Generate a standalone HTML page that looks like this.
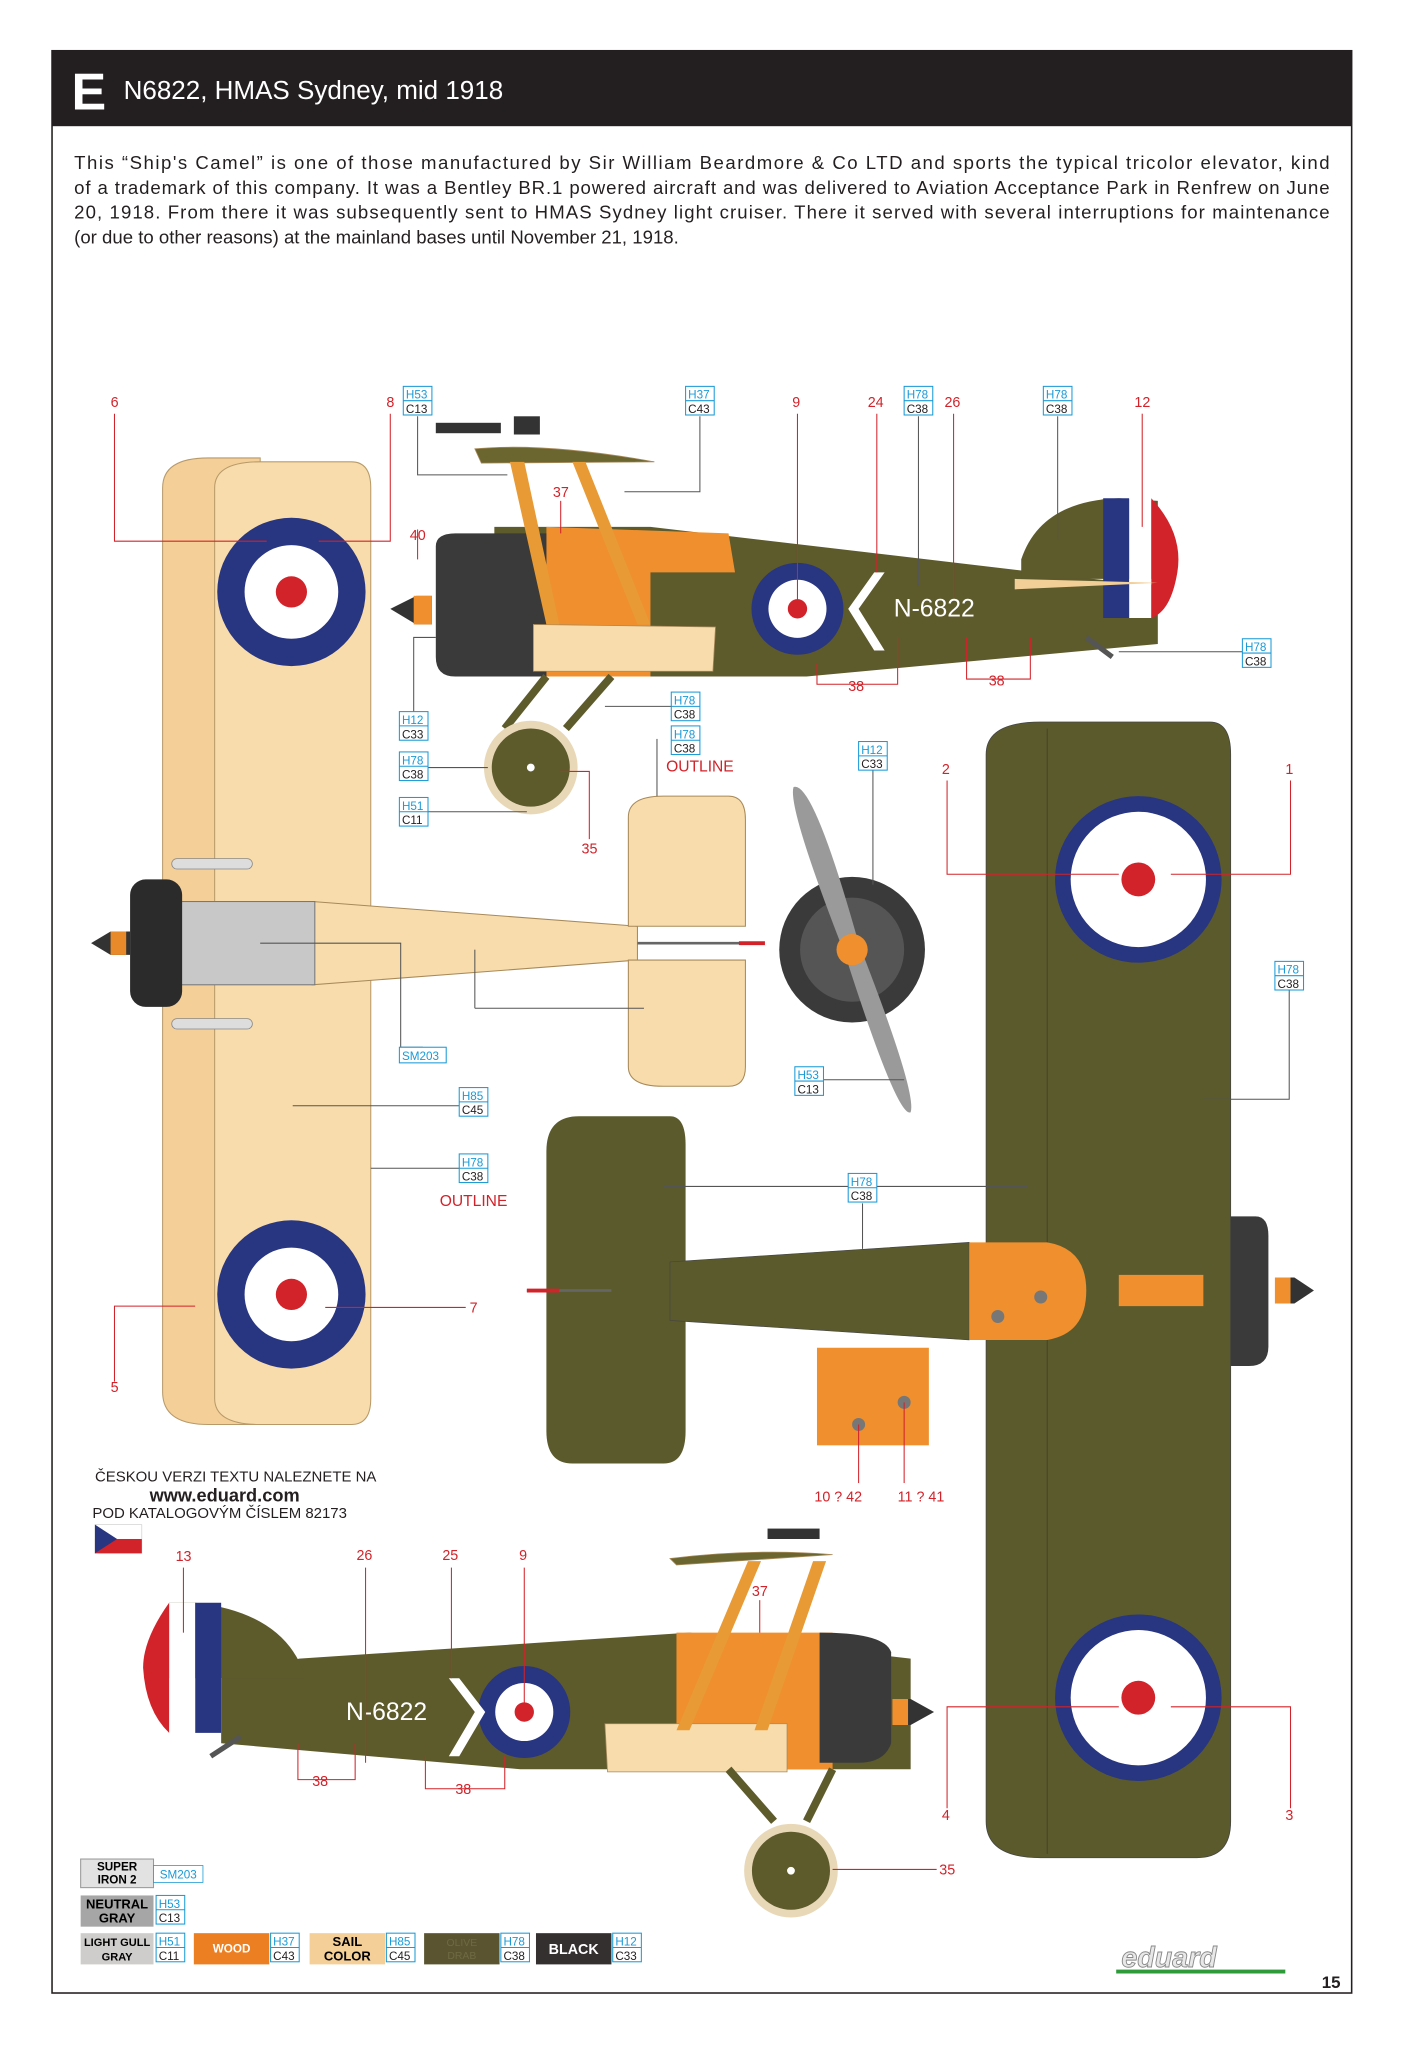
<!DOCTYPE html>
<html><head><meta charset="utf-8">
<style>
html,body{margin:0;padding:0;background:#fff;}
svg{display:block;}
text{font-family:"Liberation Sans",sans-serif;}
.p{font-size:14.3px;fill:#231f20;}
.r{font-size:11px;fill:#d2232a;}
.hb{font-size:9px;fill:#1a9ad6;}
.cb{font-size:9px;fill:#231f20;}
.ln{stroke:#555;stroke-width:0.8;fill:none;}
.rl{stroke:#d2232a;stroke-width:0.8;fill:none;}
</style></head>
<body>
<svg width="1405" height="2047" viewBox="0 0 1080 1573.5" preserveAspectRatio="none" xmlns="http://www.w3.org/2000/svg">
<defs>
<g id="rnd57"><circle r="57" fill="#283580"/><circle r="36" fill="#fff"/><circle r="12" fill="#d2232a"/></g>
<g id="rnd64"><circle r="64" fill="#283580"/><circle r="52" fill="#fff"/><circle r="13" fill="#d2232a"/></g>
<g id="hc"><rect x="0" y="0" width="22" height="22" fill="#fff" stroke="#1a9ad6" stroke-width="0.8"/><line x1="0" y1="11" x2="22" y2="11" stroke="#1a9ad6" stroke-width="0.8"/></g>
</defs>
<rect x="0" y="0" width="1080" height="1573.5" fill="#fff"/>
<rect x="40" y="39" width="999" height="1493" fill="none" stroke="#231f20" stroke-width="1.2"/>
<rect x="40" y="39" width="999" height="58" fill="#231f20"/>
<text x="55" y="84" style="font-size:40px;font-weight:bold;fill:#fff">E</text>
<text x="95" y="76" style="font-size:20px;fill:#fff">N6822, HMAS Sydney, mid 1918</text>
<text class="p" x="57" y="130" textLength="965" lengthAdjust="spacing">This “Ship's Camel” is one of those manufactured by Sir William Beardmore &amp; Co LTD and sports the typical tricolor elevator, kind</text>
<text class="p" x="57" y="149" textLength="965" lengthAdjust="spacing">of a trademark of this company. It was a Bentley BR.1 powered aircraft and was delivered to Aviation Acceptance Park in Renfrew on June</text>
<text class="p" x="57" y="168" textLength="965" lengthAdjust="spacing">20, 1918.  From there it was subsequently sent to HMAS Sydney light cruiser. There it served with several interruptions for maintenance</text>
<text class="p" x="57" y="187">(or due to other reasons) at the mainland bases until November 21, 1918.</text>

<!-- TOP PLAN VIEW -->
<path d="M125,375 Q125,352 160,352 L200,352 L200,1095 L160,1095 Q125,1095 125,1070 Z" fill="#f4cf98" stroke="#b89a6a" stroke-width="0.8"/>
<path d="M165,375 Q165,355 200,355 L270,355 Q285,355 285,375 L285,1075 Q285,1095 270,1095 L200,1095 Q165,1095 165,1075 Z" fill="#f8dcab" stroke="#b89a6a" stroke-width="0.8"/>
<use href="#rnd57" x="224" y="455"/>
<use href="#rnd57" x="224" y="995"/>
<path d="M240,693 L490,712 L490,738 L240,757 Z" fill="#f8dcab" stroke="#a88a5a" stroke-width="0.8"/>
<rect x="130" y="693" width="112" height="64" fill="#c8c8c8" stroke="#777" stroke-width="0.8"/>
<rect x="100" y="676" width="40" height="98" rx="12" fill="#2b2b2b"/>
<path d="M70,725 L85,716 L100,716 L100,734 L85,734 Z" fill="#333"/>
<rect x="85" y="716" width="12" height="18" fill="#e8892a"/>
<rect x="132" y="660" width="62" height="8" rx="4" fill="#ddd" stroke="#888" stroke-width="0.6"/>
<rect x="132" y="783" width="62" height="8" rx="4" fill="#ddd" stroke="#888" stroke-width="0.6"/>
<path d="M483,628 Q483,612 510,612 L560,612 Q573,612 573,630 L573,712 L483,712 Z" fill="#f8dcab" stroke="#a88a5a" stroke-width="0.8"/>
<path d="M483,738 L573,738 L573,820 Q573,835 560,835 L510,835 Q483,835 483,820 Z" fill="#f8dcab" stroke="#a88a5a" stroke-width="0.8"/>
<line x1="490" y1="725" x2="585" y2="725" stroke="#666" stroke-width="2"/>
<line x1="568" y1="725" x2="588" y2="725" stroke="#d2232a" stroke-width="3"/>

<!-- TOP SIDE VIEW -->
<path d="M500,405 L840,445 L890,450 L890,495 L620,520 L380,520 L380,405 Z" fill="#5d5a2c"/>
<path d="M420,405 L560,410 L565,440 L500,440 L500,520 L420,520 Z" fill="#ef8f2e"/>
<path d="M335,420 Q335,410 350,410 L420,410 L420,520 L350,520 Q335,520 335,505 Z" fill="#3a3a3a"/>
<path d="M300,468 L320,458 L332,458 L332,480 L320,480 Z" fill="#333"/>
<rect x="318" y="458" width="14" height="22" fill="#ef8f2e"/>
<path d="M785,430 Q800,385 860,383 L890,385 L890,445 L785,445 Z" fill="#5d5a2c"/>
<path d="M848,383 L868,383 L868,475 L848,475 Z" fill="#283580"/>
<path d="M868,383 L885,383 L885,475 L868,475 Z" fill="#fff"/>
<path d="M885,383 Q910,410 905,440 Q900,470 885,475 Z" fill="#d2232a"/>
<path d="M780,445 L890,448 L780,453 Z" fill="#f3cf98"/>
<g transform="translate(613 468) scale(0.62)"><use href="#rnd57"/></g>
<path d="M680,440 L660,468 L680,500 L672,500 L652,468 L672,440 Z" fill="#fff"/>
<text x="687" y="474" style="font-size:19px;fill:#fff">N-6822</text>
<path d="M410,480 L550,482 L548,516 L410,516 Z" fill="#f8dcab" stroke="#a88a5a" stroke-width="0.6"/>
<path d="M365,345 Q420,340 503,355 L370,356 Z" fill="#6b6630" stroke="#a88a5a" stroke-width="0.6"/>
<rect x="335" y="325" width="50" height="8" fill="#333"/>
<rect x="395" y="320" width="20" height="14" fill="#333"/>
<path d="M392,355 L420,480 L430,480 L403,355 Z" fill="#e89a35"/>
<path d="M440,355 L490,480 L500,480 L450,355 Z" fill="#e89a35"/>
<path d="M420,520 L388,560 M470,520 L435,560" stroke="#5d5a2c" stroke-width="6"/>
<circle cx="408" cy="590" r="36" fill="#e8d8b8"/><circle cx="408" cy="590" r="30" fill="#5d5a2c"/><circle cx="408" cy="590" r="3" fill="#fff"/>
<path d="M835,490 L855,505" stroke="#555" stroke-width="4"/>

<!-- PROPELLER -->
<circle cx="655" cy="730" r="56" fill="#3a3a3a"/>
<circle cx="655" cy="730" r="40" fill="#555"/>
<path d="M610,605 Q625,600 660,725 L650,735 Q605,620 610,605 Z" fill="#9a9a9a"/>
<path d="M700,855 Q690,860 650,735 L660,725 Q705,840 700,855 Z" fill="#9a9a9a"/>
<circle cx="655" cy="730" r="12" fill="#ef8f2e"/>

<!-- BOTTOM VIEW -->
<path d="M758,580 Q758,555 800,555 L930,555 Q946,555 946,580 L946,1400 Q946,1428 920,1428 L800,1428 Q758,1428 758,1400 Z" fill="#5b5a2d" stroke="#444" stroke-width="0.6"/>
<line x1="805" y1="560" x2="805" y2="1425" stroke="#4a4925" stroke-width="1"/>
<use href="#rnd64" x="875" y="676"/>
<use href="#rnd64" x="875" y="1305"/>
<path d="M946,935 L965,935 Q975,935 975,950 L975,1035 Q975,1050 960,1050 L946,1050 Z" fill="#3a3a3a"/>
<path d="M1010,992 L995,982 L990,982 L990,1002 L995,1002 Z" fill="#333"/>
<rect x="980" y="982" width="12" height="20" fill="#ef8f2e"/>
<rect x="860" y="980" width="65" height="24" fill="#ef8f2e"/>
<path d="M420,885 Q420,858 445,858 L515,858 Q527,858 527,880 L527,1100 Q527,1125 510,1125 L440,1125 Q420,1125 420,1100 Z" fill="#5b5a2d"/>
<path d="M515,970 L745,955 L745,1030 L515,1015 Z" fill="#5b5a2d" stroke="#444" stroke-width="0.5"/>
<path d="M745,955 L805,955 Q835,960 835,992 Q835,1025 805,1030 L745,1030 Z" fill="#ef8f2e"/>
<line x1="405" y1="992" x2="470" y2="992" stroke="#666" stroke-width="2"/>
<line x1="405" y1="992" x2="430" y2="992" stroke="#d2232a" stroke-width="3"/>
<rect x="628" y="1036" width="86" height="75" fill="#ef8f2e"/>
<circle cx="660" cy="1095" r="5" fill="#777"/><circle cx="695" cy="1078" r="5" fill="#777"/>
<circle cx="767" cy="1012" r="5" fill="#777"/><circle cx="800" cy="997" r="5" fill="#777"/>

<!-- BOTTOM SIDE VIEW -->
<path d="M700,1275 L530,1255 L230,1275 L170,1290 L170,1340 L400,1360 L700,1360 Z" fill="#5d5a2c"/>
<path d="M640,1255 L520,1255 L520,1360 L640,1360 Z" fill="#ef8f2e"/>
<path d="M630,1255 Q680,1255 685,1270 L685,1340 Q680,1355 660,1355 L630,1355 Z" fill="#3a3a3a"/>
<path d="M718,1316 L700,1306 L688,1306 L688,1326 L700,1326 Z" fill="#333"/>
<rect x="686" y="1306" width="12" height="20" fill="#ef8f2e"/>
<path d="M235,1290 Q220,1240 150,1232 L130,1232 L130,1290 Z" fill="#5d5a2c"/>
<path d="M150,1232 L170,1232 L170,1332 L150,1332 Z" fill="#283580"/>
<path d="M130,1232 L150,1232 L150,1332 L130,1332 Z" fill="#fff"/>
<path d="M130,1232 Q110,1260 110,1282 Q112,1315 130,1332 Z" fill="#d2232a"/>
<g transform="translate(403 1316) scale(0.62)"><use href="#rnd57"/></g>
<path d="M345,1290 L365,1316 L345,1350 L353,1350 L373,1316 L353,1290 Z" fill="#fff"/>
<text x="266" y="1322" style="font-size:19px;fill:#fff">N-6822</text>
<path d="M465,1325 L605,1325 L605,1362 L467,1362 Z" fill="#f8dcab" stroke="#a88a5a" stroke-width="0.6"/>
<path d="M515,1198 Q580,1190 640,1195 L520,1203 Z" fill="#6b6630" stroke="#a88a5a" stroke-width="0.6"/>
<rect x="590" y="1175" width="40" height="8" fill="#333"/>
<path d="M575,1200 L520,1330 L530,1330 L585,1200 Z" fill="#e89a35"/>
<path d="M625,1200 L580,1330 L590,1330 L635,1200 Z" fill="#e89a35"/>
<path d="M560,1360 L595,1400 M640,1360 L620,1400" stroke="#5d5a2c" stroke-width="6"/>
<circle cx="608" cy="1438" r="36" fill="#e8d8b8"/><circle cx="608" cy="1438" r="30" fill="#5d5a2c"/><circle cx="608" cy="1438" r="3" fill="#fff"/>
<path d="M185,1335 L162,1350" stroke="#555" stroke-width="4"/>

<g class="rl">
<path d="M88,318 L88,416 L205,416"/><path d="M300,318 L300,416 L245,416"/>
<path d="M321,407 L321,430"/><path d="M431,385 L431,410"/>
<path d="M613,318 L613,465"/><path d="M674,318 L674,440"/><path d="M733,318 L733,460"/>
<path d="M878,318 L878,405"/>
<path d="M628,510 L628,526 L690,526 L690,490"/><path d="M743,490 L743,522 L792,522 L792,490"/>
<path d="M453,645 L453,593 L430,593"/>
<path d="M728,600 L728,672 L860,672"/><path d="M992,600 L992,672 L900,672"/>
<path d="M88,1062 L88,1004 L150,1004"/><path d="M358,1005 L250,1005"/>
<path d="M728,1390 L728,1312 L860,1312"/><path d="M992,1390 L992,1312 L900,1312"/>
<path d="M141,1205 L141,1255"/><path d="M281,1205 L281,1355"/><path d="M347,1205 L347,1290"/><path d="M403,1205 L403,1310"/>
<path d="M584,1230 L584,1255"/>
<path d="M720,1437 L640,1437"/>
<path d="M229,1340 L229,1368 L273,1368 L273,1340"/><path d="M327,1350 L327,1375 L388,1375 L388,1350"/>
<path d="M660,1140 L660,1095"/><path d="M695,1140 L695,1078"/>
</g>
<g class="ln">
<path d="M321,320 L321,365 L390,365"/><path d="M538,320 L538,378 L480,378"/>
<path d="M706,320 L706,450"/><path d="M813,320 L813,415"/>
<path d="M955,501 L860,501"/>
<path d="M318,550 L318,490 L335,490"/>
<path d="M527,543 L465,543"/><path d="M505,568 L505,612"/>
<path d="M318,590 L375,590"/><path d="M318,624 L405,624"/>
<path d="M671,590 L671,680"/>
<path d="M991,760 L991,845 L925,845"/>
<path d="M325,805 L308,805 L308,725 L200,725"/>
<path d="M365,850 L225,850"/><path d="M365,775 L365,730"/><path d="M365,775 L495,775"/>
<path d="M365,898 L285,898"/>
<path d="M622,830 L695,830"/>
<path d="M663,925 L663,960"/><path d="M510,912 L790,912"/>
</g>

<g>
<g transform="translate(310,297)"><use href="#hc"/><text class="hb" x="2" y="9.5">H53</text><text class="cb" x="2" y="20.5">C13</text></g>
<g transform="translate(527,297)"><use href="#hc"/><text class="hb" x="2" y="9.5">H37</text><text class="cb" x="2" y="20.5">C43</text></g>
<g transform="translate(695,297)"><use href="#hc"/><text class="hb" x="2" y="9.5">H78</text><text class="cb" x="2" y="20.5">C38</text></g>
<g transform="translate(802,297)"><use href="#hc"/><text class="hb" x="2" y="9.5">H78</text><text class="cb" x="2" y="20.5">C38</text></g>
<g transform="translate(955,491)"><use href="#hc"/><text class="hb" x="2" y="9.5">H78</text><text class="cb" x="2" y="20.5">C38</text></g>
<g transform="translate(516,532)"><use href="#hc"/><text class="hb" x="2" y="9.5">H78</text><text class="cb" x="2" y="20.5">C38</text></g>
<g transform="translate(516,558)"><use href="#hc"/><text class="hb" x="2" y="9.5">H78</text><text class="cb" x="2" y="20.5">C38</text></g>
<g transform="translate(307,547)"><use href="#hc"/><text class="hb" x="2" y="9.5">H12</text><text class="cb" x="2" y="20.5">C33</text></g>
<g transform="translate(307,578)"><use href="#hc"/><text class="hb" x="2" y="9.5">H78</text><text class="cb" x="2" y="20.5">C38</text></g>
<g transform="translate(307,613)"><use href="#hc"/><text class="hb" x="2" y="9.5">H51</text><text class="cb" x="2" y="20.5">C11</text></g>
<g transform="translate(660,570)"><use href="#hc"/><text class="hb" x="2" y="9.5">H12</text><text class="cb" x="2" y="20.5">C33</text></g>
<g transform="translate(980,739)"><use href="#hc"/><text class="hb" x="2" y="9.5">H78</text><text class="cb" x="2" y="20.5">C38</text></g>
<g transform="translate(611,820)"><use href="#hc"/><text class="hb" x="2" y="9.5">H53</text><text class="cb" x="2" y="20.5">C13</text></g>
<g transform="translate(353,836)"><use href="#hc"/><text class="hb" x="2" y="9.5">H85</text><text class="cb" x="2" y="20.5">C45</text></g>
<g transform="translate(353,887)"><use href="#hc"/><text class="hb" x="2" y="9.5">H78</text><text class="cb" x="2" y="20.5">C38</text></g>
<g transform="translate(652,902)"><use href="#hc"/><text class="hb" x="2" y="9.5">H78</text><text class="cb" x="2" y="20.5">C38</text></g>
<rect x="307" y="805" width="36" height="12" fill="#fff" stroke="#1a9ad6" stroke-width="0.8"/><text class="hb" x="309" y="815">SM203</text>
</g>

<g class="r">
<text x="85" y="313">6</text><text x="297" y="313">8</text><text x="315" y="415">40</text><text x="425" y="382">37</text>
<text x="609" y="313">9</text><text x="667" y="313">24</text><text x="726" y="313">26</text><text x="872" y="313">12</text>
<text x="652" y="531">38</text><text x="760" y="527">38</text>
<text x="512" y="593" style="font-size:12px">OUTLINE</text>
<text x="447" y="656">35</text><text x="724" y="595">2</text><text x="988" y="595">1</text>
<text x="338" y="927" style="font-size:12px">OUTLINE</text>
<text x="361" y="1009">7</text><text x="85" y="1070">5</text>
<text x="626" y="1154">10 ? 42</text><text x="690" y="1154">11 ? 41</text>
<text x="135" y="1200">13</text><text x="274" y="1199">26</text><text x="340" y="1199">25</text><text x="399" y="1199">9</text><text x="578" y="1227">37</text>
<text x="240" y="1373">38</text><text x="350" y="1379">38</text>
<text x="724" y="1399">4</text><text x="988" y="1399">3</text><text x="722" y="1441">35</text>
</g>

<text x="73" y="1139" style="font-size:11.5px;fill:#231f20">ČESKOU VERZI TEXTU NALEZNETE NA</text>
<text x="115" y="1154" style="font-size:14px;font-weight:bold;fill:#231f20">www.eduard.com</text>
<text x="71" y="1167" style="font-size:11.5px;fill:#231f20">POD KATALOGOVÝM ČÍSLEM 82173</text>
<rect x="73" y="1172" width="36" height="22" fill="#fff" stroke="#ccc" stroke-width="0.5"/>
<rect x="73" y="1183" width="36" height="11" fill="#d2232a"/>
<path d="M73,1172 L90,1183 L73,1194 Z" fill="#283580"/>

<g font-weight="bold" font-size="9" text-anchor="middle">
<rect x="62" y="1429" width="56" height="22" fill="#e2e2e2" stroke="#999" stroke-width="0.8"/>
<text x="90" y="1438">SUPER</text><text x="90" y="1448">IRON 2</text>
<rect x="118" y="1434" width="38" height="13" fill="#fff" stroke="#1a9ad6" stroke-width="0.6"/>
<text x="137" y="1444" style="fill:#1a9ad6;font-weight:normal">SM203</text>
<rect x="62" y="1457" width="56" height="24" fill="#a7a6a6"/>
<text x="90" y="1467" font-size="10">NEUTRAL</text><text x="90" y="1478" font-size="10">GRAY</text>
<rect x="62" y="1486" width="56" height="24" fill="#cfcdcb"/>
<text x="90" y="1496" font-size="8.5">LIGHT GULL</text><text x="90" y="1507" font-size="8.5">GRAY</text>
<rect x="149" y="1486" width="58" height="24" fill="#ec7f22"/>
<text x="178" y="1501" fill="#fff">WOOD</text>
<rect x="238" y="1486" width="58" height="24" fill="#f4cf98"/>
<text x="267" y="1496" font-size="10">SAIL</text><text x="267" y="1507" font-size="10">COLOR</text>
<rect x="326" y="1486" width="58" height="24" fill="#5a5430"/>
<text x="355" y="1496" fill="#6f6a43" font-weight="normal" font-size="8">OLIVE</text><text x="355" y="1506" fill="#6f6a43" font-weight="normal" font-size="8">DRAB</text>
<rect x="412" y="1486" width="58" height="24" fill="#34302f"/>
<text x="441" y="1502" fill="#fff" font-size="11">BLACK</text>
</g>
<g>
<g transform="translate(120,1457)"><use href="#hc"/><text class="hb" x="2" y="9.5">H53</text><text class="cb" x="2" y="20.5">C13</text></g>
<g transform="translate(120,1486)"><use href="#hc"/><text class="hb" x="2" y="9.5">H51</text><text class="cb" x="2" y="20.5">C11</text></g>
<g transform="translate(208,1486)"><use href="#hc"/><text class="hb" x="2" y="9.5">H37</text><text class="cb" x="2" y="20.5">C43</text></g>
<g transform="translate(297,1486)"><use href="#hc"/><text class="hb" x="2" y="9.5">H85</text><text class="cb" x="2" y="20.5">C45</text></g>
<g transform="translate(385,1486)"><use href="#hc"/><text class="hb" x="2" y="9.5">H78</text><text class="cb" x="2" y="20.5">C38</text></g>
<g transform="translate(471,1486)"><use href="#hc"/><text class="hb" x="2" y="9.5">H12</text><text class="cb" x="2" y="20.5">C33</text></g>
</g>
<text x="862" y="1512" style="font-size:22px;font-weight:bold;fill:#e8e8e8;stroke:#888;stroke-width:0.7;font-style:italic">eduard</text>
<rect x="858" y="1514" width="130" height="3" fill="#2f9a3a"/>
<text x="1016" y="1528" style="font-size:13px;font-weight:bold;fill:#231f20">15</text>
</svg>
</body></html>
